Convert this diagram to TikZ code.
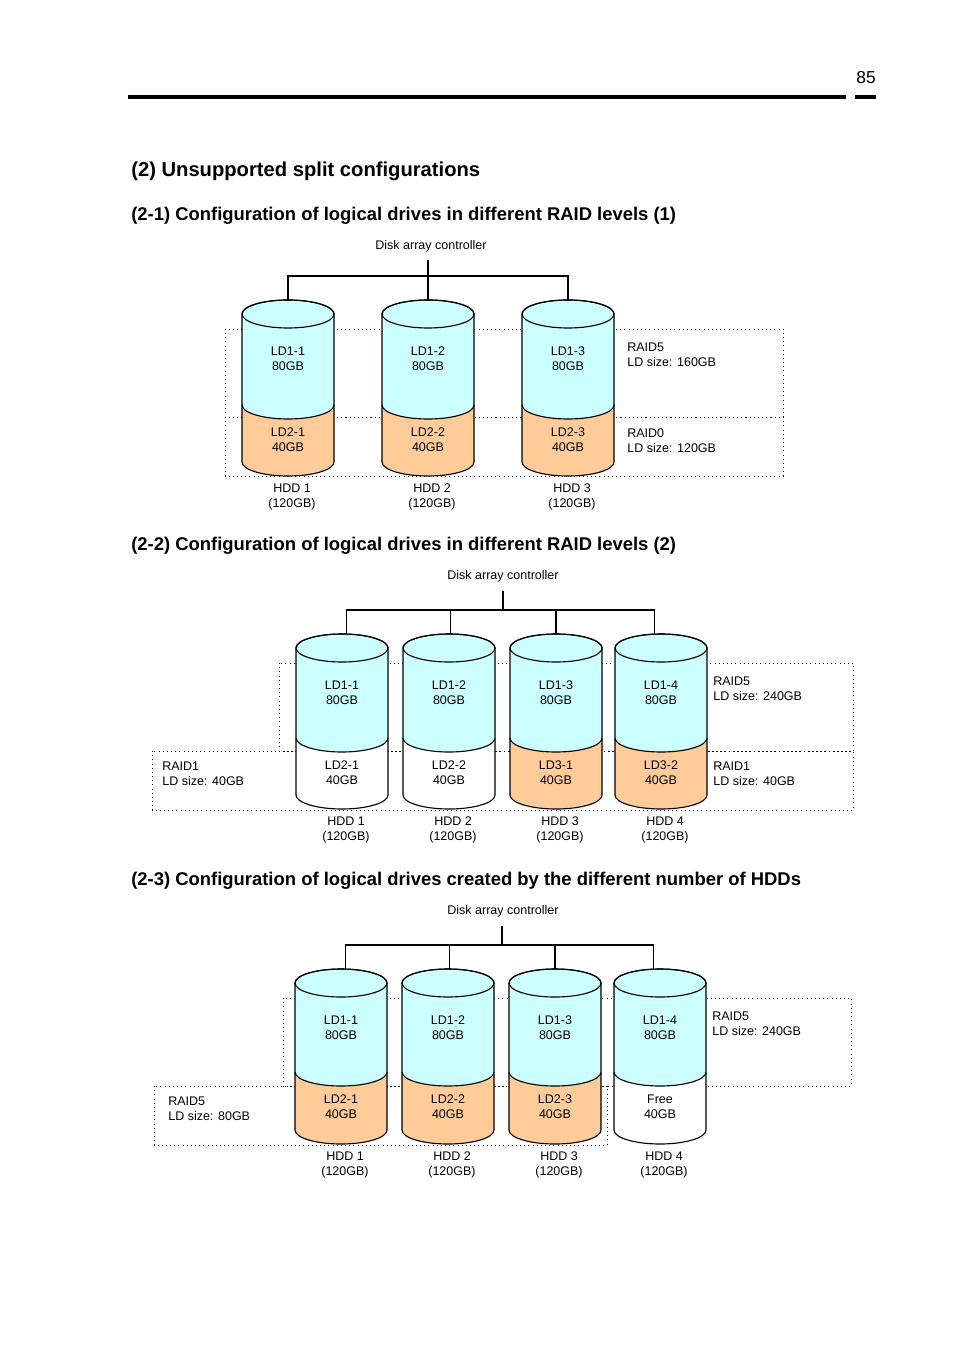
\documentclass[tikz,border=0pt]{standalone}
\usepackage{fontspec}
\setmainfont{Liberation Sans}
\usetikzlibrary{positioning}
\definecolor{ldblue}{HTML}{CCFFFF}
\definecolor{ldorange}{HTML}{FFCC99}

% #1 name, #2 cx, #3 ytop, #4 ysplit, #5 ybot, #6 lower colour,
% #7 upper text, #8 lower text, #9 hdd text
\newcommand\hddcyl[9]{%
  \filldraw[fill=#6,line width=0.7pt] ({#2-46},{#4}) -- ({#2-46},{#5})
    arc[start angle=180,end angle=0,x radius=46,y radius=14] -- ({#2+46},{#4});
  \filldraw[fill=ldblue,line width=0.7pt] ({#2-46},{#3}) -- ({#2-46},{#4})
    arc[start angle=180,end angle=0,x radius=46,y radius=14] -- ({#2+46},{#3})
    arc[start angle=0,end angle=-180,x radius=46,y radius=14] -- cycle;
  \draw[line width=0.7pt] (#2,#3) ellipse[x radius=46,y radius=14];
  \coordinate (#1t) at (#2,{#3-14});
  \node[lbl] (#1u) at (#2,{#3+45}) {#7};
  \node[lbl] (#1l) at (#2,{#4+35}) {#8};
  \node[lbl] (#1h) at ({#2+4},{#5+35}) {#9};
}

\begin{document}
\begin{tikzpicture}[x=0.624pt,y=-0.624pt]
  \tikzset{
    lbl/.style={align=center,font=\fontsize{7.8}{9.4}\selectfont,inner sep=0pt},
    rl/.style={align=left,anchor=north west,font=\fontsize{7.8}{9.4}\selectfont,inner sep=0pt},
    head/.style={anchor=west,font=\bfseries\fontsize{11.5}{13}\selectfont,inner sep=0pt},
    grp/.style={dotted,line width=0.6pt},
    bus/.style={line width=0.8pt}
  }
  \useasboundingbox (0,0) rectangle (954,1351);

  % page header
  \node[anchor=east,font=\fontsize{10.8}{12}\selectfont,inner sep=0pt] (pnum) at (876,78) {85};
  \fill (128,95.5) rectangle (846,99.5);
  \fill (855,95.5) rectangle (876,99.5);

  \node[head,font=\bfseries\fontsize{12.6}{14}\selectfont] (h2) at (131,171) {(2) Unsupported split configurations};
  \node[head] (h21) at (131,216) {(2-1) Configuration of logical drives in different RAID levels (1)};
  \node[head] (h22) at (131,546) {(2-2) Configuration of logical drives in different RAID levels (2)};
  \node[head] (h23) at (131,881) {(2-3) Configuration of logical drives created by the different number of HDDs};

  % (2-1)
  \draw[grp] (225,329) rectangle (783,417);
  \draw[grp] (225,417) rectangle (783,476);
  \hddcyl{a1}{288}{314}{405}{462}{ldorange}{LD1-1\\80GB}{LD2-1\\40GB}{HDD 1\\(120GB)}
  \hddcyl{a2}{428}{314}{405}{462}{ldorange}{LD1-2\\80GB}{LD2-2\\40GB}{HDD 2\\(120GB)}
  \hddcyl{a3}{568}{314}{405}{462}{ldorange}{LD1-3\\80GB}{LD2-3\\40GB}{HDD 3\\(120GB)}
  \node[lbl] (ctrla) at (431,246) {Disk array controller};
  \draw[line width=1.2pt] (ctrla.south -| a2t) ++(0,8) -- (a2t);
  \draw[bus] (a1t) -- ++(0,-24) -| (a3t);
  \node[rl] (ra1) at (627,343) {RAID5\\LD size: 160GB};
  \node[rl] (ra2) at (627,428) {RAID0\\LD size: 120GB};

  % (2-2)
  \draw[grp] (279,663) rectangle (853,751);
  \draw[grp] (152,751) rectangle (853,810);
  \hddcyl{b1}{342}{648}{738}{795}{white}{LD1-1\\80GB}{LD2-1\\40GB}{HDD 1\\(120GB)}
  \hddcyl{b2}{449}{648}{738}{795}{white}{LD1-2\\80GB}{LD2-2\\40GB}{HDD 2\\(120GB)}
  \hddcyl{b3}{556}{648}{738}{795}{ldorange}{LD1-3\\80GB}{LD3-1\\40GB}{HDD 3\\(120GB)}
  \hddcyl{b4}{661}{648}{738}{795}{ldorange}{LD1-4\\80GB}{LD3-2\\40GB}{HDD 4\\(120GB)}
  \node[lbl] (ctrlb) at (503,576) {Disk array controller};
  \coordinate (busb) at (503,610);
  \draw[bus] (ctrlb.south) ++(0,9) -- (busb);
  \draw[bus] ([xshift=3pt]b1t) -- ++(0,-24) -| ([xshift=-4pt]b4t);
  \draw[bus] ([xshift=1pt]b2t) -- ++(0,-24);
  \draw[bus] (b3t) -- ++(0,-24);
  \node[rl] (rb1) at (713,677) {RAID5\\LD size: 240GB};
  \node[rl] (rb2) at (162,762) {RAID1\\LD size: 40GB};
  \node[rl] (rb3) at (713,762) {RAID1\\LD size: 40GB};

  % (2-3)
  \draw[grp] (283,998) rectangle (851,1086);
  \draw[grp] (154,1086) rectangle (607,1145);
  \hddcyl{c1}{341}{983}{1072}{1130}{ldorange}{LD1-1\\80GB}{LD2-1\\40GB}{HDD 1\\(120GB)}
  \hddcyl{c2}{448}{983}{1072}{1130}{ldorange}{LD1-2\\80GB}{LD2-2\\40GB}{HDD 2\\(120GB)}
  \hddcyl{c3}{555}{983}{1072}{1130}{ldorange}{LD1-3\\80GB}{LD2-3\\40GB}{HDD 3\\(120GB)}
  \hddcyl{c4}{660}{983}{1072}{1130}{white}{LD1-4\\80GB}{Free\\40GB}{HDD 4\\(120GB)}
  \node[lbl] (ctrlc) at (503,911) {Disk array controller};
  \coordinate (busc) at (502,945);
  \draw[bus] (ctrlc.south -| busc) ++(0,9) -- (busc);
  \draw[bus] ([xshift=3pt]c1t) -- ++(0,-24) -| ([xshift=-4pt]c4t);
  \draw[bus] ([xshift=1pt]c2t) -- ++(0,-24);
  \draw[bus] (c3t) -- ++(0,-24);
  \node[rl] (rc1) at (712,1012) {RAID5\\LD size: 240GB};
  \node[rl] (rc2) at (168,1097) {RAID5\\LD size: 80GB};
\end{tikzpicture}
\end{document}
